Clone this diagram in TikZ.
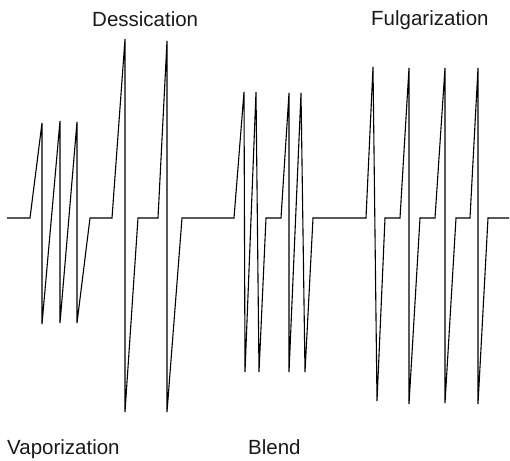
\documentclass[tikz,border=0pt]{standalone}
\usepackage{fontspec}
\setmainfont{Liberation Sans}
\begin{document}
\begin{tikzpicture}[x=1pt,y=-1pt,
  wave/.style={line width=1.1pt,line join=miter,black},
  lbl/.style={anchor=base west,inner sep=0pt,font=\fontsize{20.5}{24}\selectfont,text=black!90}]
\useasboundingbox (0,0) rectangle (510,460);
% waveform trains
\draw[wave] (7,218) -- (30,218) -- (42,123) -- (42,324) -- (60,121) -- (60,323)
  -- (77,122) -- (77,323) -- (90,218) -- (112,218)
  -- (125,39) -- (125,412) -- (138,218) -- (158,218) -- (167,41) -- (167,412)
  -- (182,218) -- (234,218)
  -- (244,92) -- (245,372) -- (256,92) -- (259,372) -- (266,218) -- (281,218)
  -- (289,93) -- (289,372) -- (301,93) -- (305,372) -- (313,218) -- (366,218)
  -- (373,67) -- (377,401) -- (385,218) -- (400,218) -- (409,68) -- (409,404)
  -- (420,218) -- (435,218) -- (445,68) -- (445,403) -- (456,218) -- (470,218)
  -- (478,68) -- (478,404) -- (488,218) -- (509,218);
% labels
\node[lbl] (dess) at (92,27) {Dessication};
\node[lbl] (fulg) at (371,26) {Fulgarization};
\node[lbl] (vap) at (7,454) {Vaporization};
\node[lbl] (blend) at (248,454) {Blend};
\end{tikzpicture}
\end{document}
